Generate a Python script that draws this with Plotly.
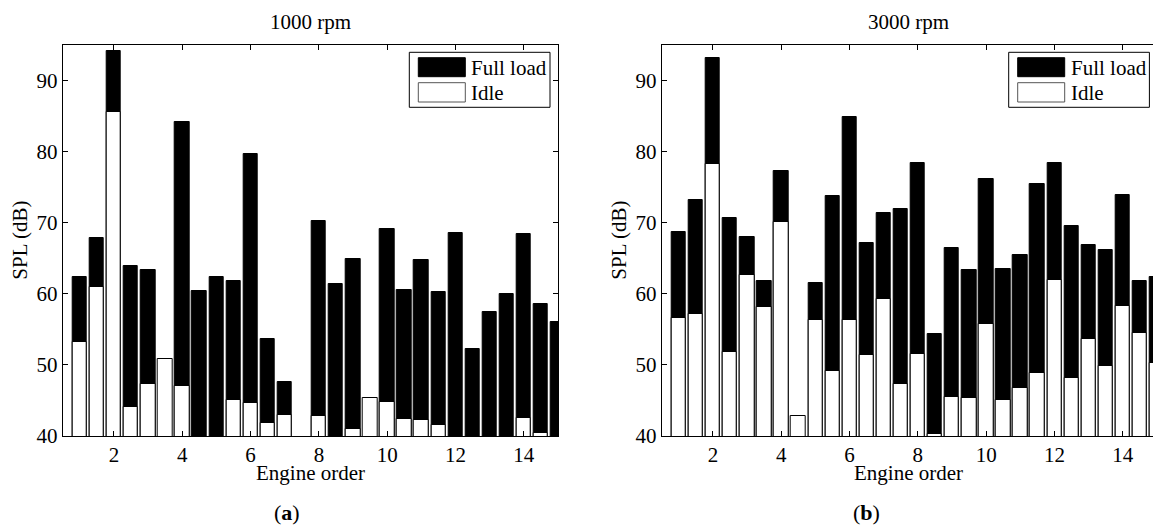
import plotly.graph_objects as go

# ---------------- data ----------------
orders = [1, 1.5, 2, 2.5, 3, 3.5, 4, 4.5, 5, 5.5, 6, 6.5, 7, 7.5, 8,
          8.5, 9, 9.5, 10, 10.5, 11, 11.5, 12, 12.5, 13, 13.5, 14, 14.5, 15]

full_1000 = [62.3, 67.8, 94.2, 63.9, 63.4, None, 84.1, 60.4, 62.3, 61.8, 79.7, 53.7, 47.6, None, 70.3,
             61.4, 64.9, None, 69.1, 60.5, 64.7, 60.2, 68.5, 52.2, 57.5, 60.0, 68.4, 58.5, 56.1]
idle_1000 = [53.2, 60.9, 85.6, 44.1, 47.3, 50.9, 47.1, None, None, 45.1, 44.7, 41.8, 43.0, None, 42.8,
             None, 41.0, 45.3, 44.8, 42.4, 42.3, 41.5, None, None, None, None, 42.6, 40.4, None]

full_3000 = [68.7, 73.2, 93.2, 70.6, 68.0, 61.8, 77.3, None, 61.5, 73.8, 84.9, 67.2, 71.4, 71.9, 78.4,
             54.4, 66.4, 63.3, 76.1, 63.5, 65.5, 75.4, 78.4, 69.6, 66.9, 66.2, 73.9, 61.8, 62.3]
idle_3000 = [56.6, 57.2, 78.2, 51.8, 62.7, 58.1, 70.1, 42.8, 56.3, 49.1, 56.3, 51.4, 59.3, 47.3, 51.6,
             40.3, 45.5, 45.3, 55.8, 45.0, 46.8, 48.8, 61.9, 48.1, 53.6, 49.8, 58.3, 54.5, 50.3]

titles = ["1000 rpm", "3000 rpm"]
panel_labels = ["a", "b"]
series_names = ["Full load", "Idle"]
xticks = [2, 4, 6, 8, 10, 12, 14]
yticks = [40, 50, 60, 70, 80, 90]

# ---------------- layout helpers ----------------
W, H = 1153, 539          # rendered page is slightly taller than the 527 px picture
REF_H = 527
FONT = "Liberation Serif, Times New Roman, serif"
FS = 21


def px(x):
    return x / W


def py(y):
    return 1 - y / REF_H


fig = go.Figure()

panels = [
    dict(full=full_1000, idle=idle_1000, xa="x", ya="y", x0=62.7, cx=310, lab=287, leg=409.3),
    dict(full=full_3000, idle=idle_3000, xa="x2", ya="y2", x0=661.7, cx=909, lab=866, leg=1008.7),
]

for p in panels:
    fig.add_trace(go.Bar(x=orders, y=p["full"], name=series_names[0], width=0.42,
                         marker=dict(color="black", line=dict(color="black", width=1)),
                         xaxis=p["xa"], yaxis=p["ya"], showlegend=False))
    fig.add_trace(go.Bar(x=orders, y=p["idle"], name=series_names[1], width=0.42,
                         marker=dict(color="white", line=dict(color="black", width=1)),
                         xaxis=p["xa"], yaxis=p["ya"], showlegend=False))

ytop, ybot = 45.0, 436.0
axis_common = dict(showgrid=False, zeroline=False, ticks="inside", ticklen=5,
                   tickcolor="black", linecolor="black", linewidth=1, showline=True,
                   tickfont=dict(family=FONT, size=FS, color="black"))

fig.update_layout(
    width=W, height=H, margin=dict(l=0, r=0, t=0, b=0),
    paper_bgcolor="white", plot_bgcolor="white", barmode="overlay", bargap=0,
    xaxis=dict(domain=[px(62.7), px(558.0)], range=[0.5, 15.0], tickvals=xticks,
               mirror="ticks", anchor="y", **axis_common),
    yaxis=dict(domain=[py(ybot), py(ytop)], range=[40, 95], tickvals=yticks,
               mirror="ticks", anchor="x", **axis_common),
    xaxis2=dict(domain=[px(661.7), 1.0], range=[0.5, 14.886], tickvals=xticks,
                mirror="ticks", anchor="y2", **axis_common),
    yaxis2=dict(domain=[py(ybot), py(ytop)], range=[40, 95], tickvals=yticks,
                mirror=False, anchor="x2", **axis_common),
    showlegend=False,
)

shapes = []
annotations = []


def text(t, x, y, size=FS, angle=0, xanchor="center"):
    annotations.append(dict(text=t, x=px(x), y=py(y), xref="paper", yref="paper",
                            xanchor=xanchor, yanchor="middle", textangle=angle,
                            showarrow=False, font=dict(family=FONT, size=size, color="black")))


for i, p in enumerate(panels):
    text(titles[i], p["cx"], 22)
    text("Engine order", p["cx"], 473)
    text("(<b>%s</b>)" % panel_labels[i], p["lab"], 512, size=22)
    text("SPL (dB)", p["x0"] - 43, 240, angle=-90)
    # manual legend (MATLAB style)
    lx0 = p["leg"]
    lx1 = lx0 + 140.7
    shapes.append(dict(type="rect", xref="paper", yref="paper", x0=px(lx0), x1=px(lx1),
                       y0=py(107.3), y1=py(52.3), line=dict(color="black", width=1),
                       fillcolor="white", layer="above"))
    shapes.append(dict(type="rect", xref="paper", yref="paper", x0=px(lx0 + 9), x1=px(lx0 + 56),
                       y0=py(76.7), y1=py(57.7), line=dict(color="black", width=1),
                       fillcolor="black", layer="above"))
    shapes.append(dict(type="rect", xref="paper", yref="paper", x0=px(lx0 + 9), x1=px(lx0 + 56),
                       y0=py(102.0), y1=py(82.7), line=dict(color="#555555", width=1),
                       fillcolor="white", layer="above"))
    text(series_names[0], lx0 + 60, 68, xanchor="left")
    text(series_names[1], lx0 + 60, 93, xanchor="left")

fig.update_layout(shapes=shapes, annotations=annotations)

fig.write_html("out.html", config={"displayModeBar": False},
               post_script="document.body.style.margin='0';document.body.style.overflow='hidden';")
